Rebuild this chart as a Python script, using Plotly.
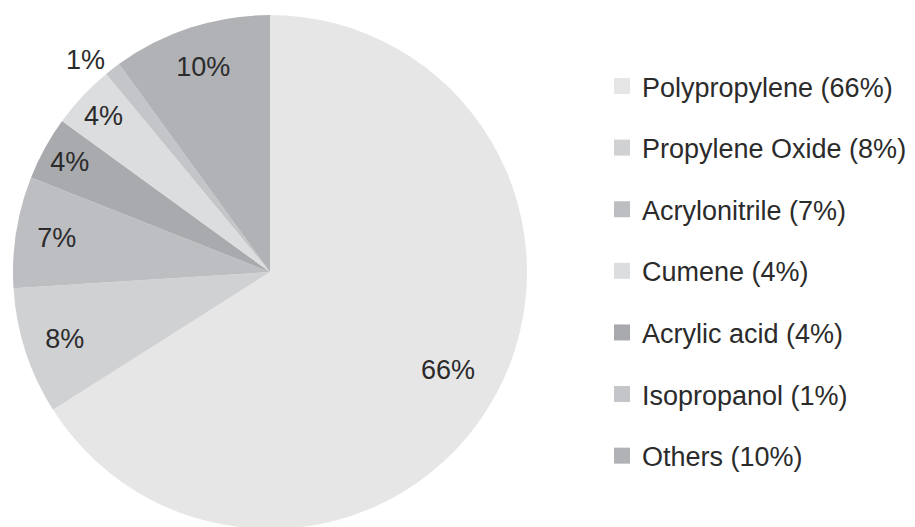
import plotly.graph_objects as go

# propylene end uses (legend order)
products = ['Polypropylene', 'Propylene Oxide', 'Acrylonitrile', 'Cumene',
            'Acrylic acid', 'Isopropanol', 'Others']
shares = [66, 8, 7, 4, 4, 1, 10]
greys = ['#e6e6e6', '#d0d1d3', '#bdbec1', '#dcdddf', '#a9aaad', '#c4c5c8', '#b1b2b5']
# order of the slices going clockwise from 12 o'clock
pie_order = ['Polypropylene', 'Propylene Oxide', 'Acrylonitrile', 'Acrylic acid',
             'Cumene', 'Isopropanol', 'Others']
outside_labels = ['Isopropanol']
big_slices = ['Polypropylene']   # label sits a bit further in

legend_labels = [f'{p} ({s}%)' for p, s in zip(products, shares)]
share_of = dict(zip(products, shares))
grey_of = dict(zip(products, greys))
pie_values = [share_of[p] for p in pie_order]
pie_colors = [grey_of[p] for p in pie_order]
pie_text = [f'{v}%' for v in pie_values]
positions = ['outside' if p in outside_labels else 'inside' for p in pie_order]

text_color = '#2b2b2b'
font_family = 'Liberation Sans, Arial, sans-serif'
pie_domain = dict(x=[5 / 915, 519 / 915], y=[6 / 527, 520 / 527])
clear = ['rgba(0,0,0,0)'] * len(pie_order)

fig = go.Figure()

# filled slices; keeps the outside label (invisible) so all pies get the same radius
fig.add_trace(go.Pie(
    labels=pie_order,
    values=pie_values,
    text=[t if pos == 'outside' else '' for t, pos in zip(pie_text, positions)],
    textinfo='text',
    textposition=positions,
    sort=False,
    direction='clockwise',
    rotation=0,
    marker=dict(colors=pie_colors, line=dict(width=0)),
    textfont=dict(size=27, color='rgba(0,0,0,0)', family=font_family),
    domain=pie_domain,
    showlegend=False,
    hoverinfo='label+percent',
))

# transparent rings on top, used to put the labels near the rim
for hole, picks in [(0.68, lambda p: p not in big_slices), (0.58, lambda p: p in big_slices)]:
    fig.add_trace(go.Pie(
        labels=pie_order,
        values=pie_values,
        text=[t if picks(p) or pos == 'outside' else '' for t, p, pos in zip(pie_text, pie_order, positions)],
        textinfo='text',
        textposition=positions,
        insidetextorientation='horizontal',
        hole=hole,
        sort=False,
        direction='clockwise',
        rotation=0,
        marker=dict(colors=clear, line=dict(width=0)),
        textfont=dict(size=27, family=font_family,
                      color=[text_color if (picks(p) and pos == 'inside') or (hole == 0.68 and pos == 'outside')
                             else 'rgba(0,0,0,0)' for p, pos in zip(pie_order, positions)]),
        domain=pie_domain,
        showlegend=False,
        hoverinfo='skip',
    ))

# legend entries drawn as empty square-marker traces so the row spacing can be set
for i, (lab, col) in enumerate(zip(legend_labels, greys)):
    fig.add_trace(go.Scatter(
        x=[None], y=[None],
        mode='markers',
        name=lab,
        legendgroup=f'g{i}',
        marker=dict(symbol='square', size=18, color=col),
    ))

fig.update_layout(
    width=915,
    height=527,
    margin=dict(l=0, r=0, t=0, b=0),
    paper_bgcolor='white',
    plot_bgcolor='white',
    font_family=font_family,
    xaxis=dict(visible=False),
    yaxis=dict(visible=False),
    showlegend=True,
    legend=dict(
        x=594 / 915,
        xanchor='left',
        y=1 - 54 / 527,
        yanchor='top',
        font=dict(size=27, color=text_color),
        tracegroupgap=23.5,
        itemclick=False,
        bgcolor='rgba(0,0,0,0)',
    ),
)

fig.write_html('out.html')
